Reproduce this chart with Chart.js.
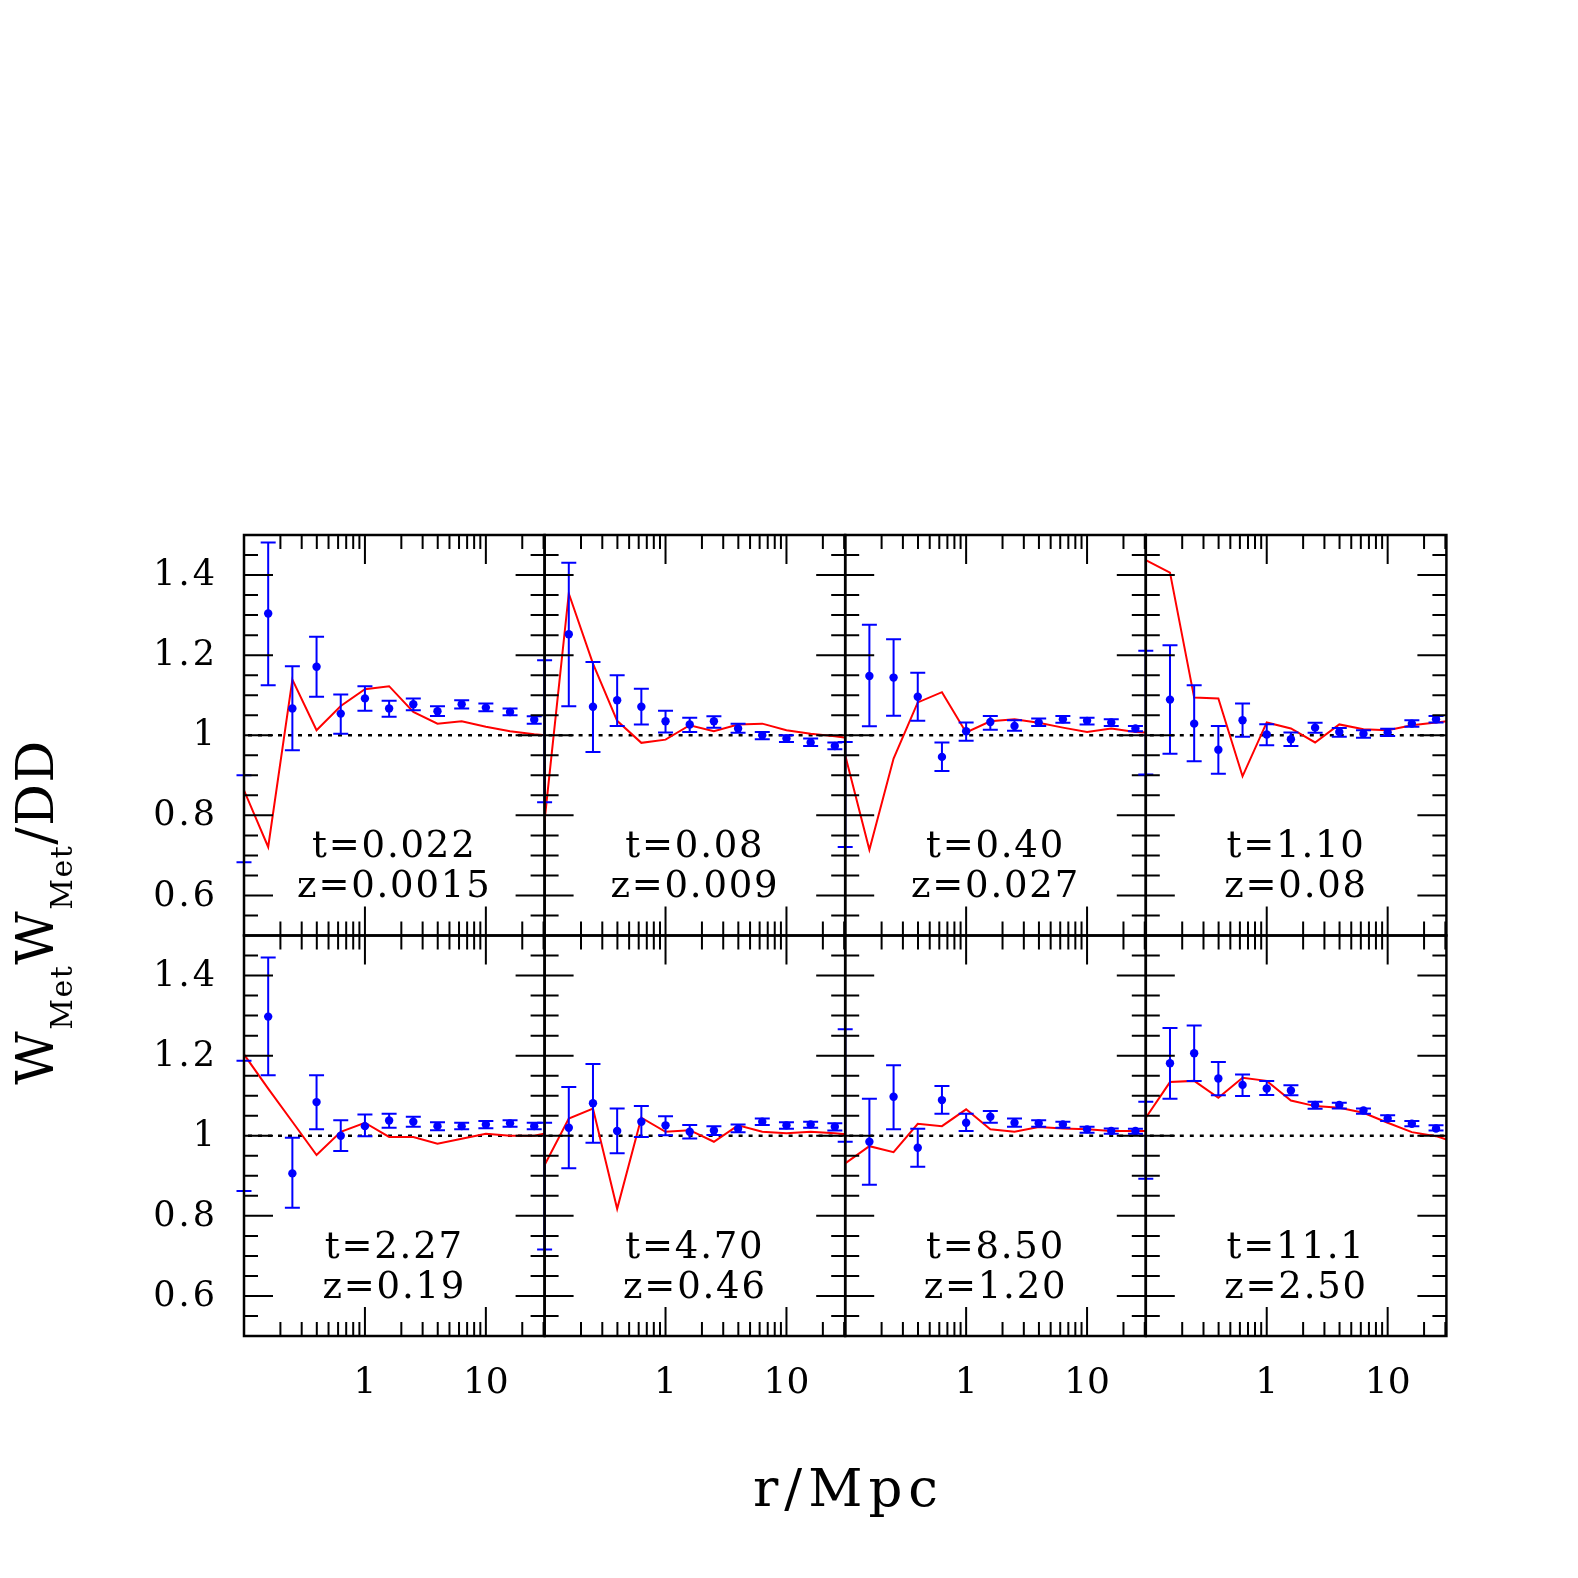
<!DOCTYPE html>
<html><head><meta charset="utf-8">
<script src="https://cdn.jsdelivr.net/npm/chart.js@4/dist/chart.umd.min.js"></script>
<style>
html,body{margin:0;padding:0;background:#fff;}
#wrap{position:relative;width:1578px;height:1578px;overflow:hidden;background:#fff;}
canvas{position:absolute;left:0;top:0;}
</style></head><body><div id="wrap"></div>
<script>
// ---------- data ----------
const R_OBS = [0.1, 0.1585, 0.2512, 0.3981, 0.631, 1.0, 1.585, 2.512, 3.981, 6.31, 10.0, 15.85, 25.12];
const R_MOD = [0.1, 0.1585, 0.2512, 0.3981, 0.631, 1.0, 1.585, 2.512, 3.981, 6.31, 10.0, 15.85, 25.12, 39.81];

const T_LABELS = ['t=0.022','t=0.08','t=0.40','t=1.10','t=2.27','t=4.70','t=8.50','t=11.1'];
const Z_LABELS = ['z=0.0015','z=0.009','z=0.027','z=0.08','z=0.19','z=0.46','z=1.20','z=2.50'];

const Y_MAJOR = [0.6, 0.8, 1, 1.2, 1.4];
const Y_TICK_LABELS = ['0.6', '0.8', '1', '1.2', '1.4'];
const Y_MINOR = [0.55, 0.65, 0.7, 0.75, 0.85, 0.9, 0.95, 1.05, 1.1, 1.15, 1.25, 1.3, 1.35, 1.45];
const X_MAJOR = [1, 10];
const X_TICK_LABELS = ['1', '10'];
const X_MINOR = [0.2, 0.3, 0.4, 0.5, 0.6, 0.7, 0.8, 0.9, 2, 3, 4, 5, 6, 7, 8, 9, 20, 30];

const P1_OBS = [0.79, 1.304, 1.067, 1.171, 1.054, 1.092, 1.067, 1.0775, 1.06, 1.0775, 1.069, 1.058, 1.039];
const P1_LO  = [0.683, 1.125, 0.9625, 1.096, 1.004, 1.061, 1.046, 1.0625, 1.048, 1.067, 1.06, 1.05, 1.029];
const P1_HI  = [0.9, 1.481, 1.1725, 1.246, 1.102, 1.1225, 1.086, 1.092, 1.0725, 1.0875, 1.079, 1.067, 1.0475];
const P1_MOD = [0.8625, 0.721, 1.139, 1.0125, 1.073, 1.115, 1.1225, 1.058, 1.029, 1.035, 1.021, 1.01, 1.0025, 0.997];

const P2_OBS = [1.01, 1.252, 1.071, 1.0875, 1.071, 1.035, 1.027, 1.035, 1.017, 1.0, 0.992, 0.982, 0.973];
const P2_LO  = [0.833, 1.0725, 0.958, 1.023, 1.027, 1.007, 1.008, 1.019, 1.006, 0.99, 0.983, 0.973, 0.965];
const P2_HI  = [1.1875, 1.431, 1.183, 1.15, 1.116, 1.061, 1.044, 1.0475, 1.029, 1.008, 1.0, 0.992, 0.982];
const P2_MOD = [0.7875, 1.354, 1.179, 1.036, 0.981, 0.989, 1.025, 1.01, 1.027, 1.029, 1.0125, 1.004, 0.9975, 0.989];

const P3_OBS = [0.852, 1.148, 1.144, 1.096, 0.946, 1.01, 1.033, 1.023, 1.032, 1.04, 1.036, 1.032, 1.017];
const P3_LO  = [0.721, 1.0225, 1.049, 1.036, 0.911, 0.986, 1.014, 1.011, 1.023, 1.031, 1.027, 1.023, 1.01];
const P3_HI  = [0.983, 1.276, 1.24, 1.156, 0.982, 1.032, 1.048, 1.0375, 1.042, 1.048, 1.044, 1.04, 1.023];
const P3_MOD = [0.95, 0.714, 0.942, 1.082, 1.1075, 1.007, 1.035, 1.04, 1.031, 1.019, 1.008, 1.017, 1.008, 1.006];

const P4_OBS = [1.056, 1.089, 1.029, 0.964, 1.0375, 1.002, 0.99, 1.019, 1.008, 1.004, 1.007, 1.029, 1.04];
const P4_LO  = [0.902, 0.954, 0.935, 0.904, 0.996, 0.975, 0.973, 1.006, 0.996, 0.994, 0.998, 1.021, 1.032];
const P4_HI  = [1.211, 1.225, 1.125, 1.023, 1.079, 1.0275, 1.007, 1.031, 1.018, 1.0125, 1.016, 1.0375, 1.048];
const P4_MOD = [1.4375, 1.406, 1.094, 1.092, 0.8975, 1.032, 1.017, 0.982, 1.027, 1.015, 1.0125, 1.025, 1.032, 1.039];

const P5_OBS = [1.02, 1.2975, 0.906, 1.084, 1.0, 1.024, 1.038, 1.035, 1.024, 1.024, 1.028, 1.031, 1.024];
const P5_LO  = [0.862, 1.151, 0.82, 1.016, 0.962, 0.999, 1.02, 1.0225, 1.014, 1.016, 1.019, 1.0225, 1.016];
const P5_HI  = [1.187, 1.445, 0.995, 1.151, 1.039, 1.053, 1.055, 1.0475, 1.034, 1.0325, 1.037, 1.039, 1.0325];
const P5_MOD = [1.203, 1.1175, 1.035, 0.952, 1.01, 1.0325, 0.997, 0.997, 0.98, 0.9925, 1.005, 1.0, 1.0, 1.012];

const P6_OBS = [0.874, 1.02, 1.081, 1.012, 1.035, 1.026, 1.01, 1.013, 1.0175, 1.035, 1.026, 1.028, 1.0225];
const P6_LO  = [0.716, 0.919, 0.9825, 0.956, 0.997, 1.001, 0.993, 1.002, 1.009, 1.027, 1.0175, 1.02, 1.013];
const P6_HI  = [1.0325, 1.122, 1.179, 1.068, 1.074, 1.049, 1.027, 1.024, 1.028, 1.043, 1.034, 1.035, 1.031];
const P6_MOD = [0.927, 1.043, 1.068, 0.8175, 1.045, 1.01, 1.014, 0.985, 1.026, 1.01, 1.006, 1.01, 1.006, 1.001];

const P7_OBS = [1.125, 0.985, 1.0975, 0.97, 1.089, 1.0325, 1.0475, 1.0325, 1.031, 1.028, 1.016, 1.012, 1.012];
const P7_LO  = [0.985, 0.8775, 1.016, 0.9225, 1.055, 1.012, 1.0325, 1.0225, 1.0225, 1.02, 1.0075, 1.005, 1.005];
const P7_HI  = [1.266, 1.0925, 1.176, 1.0175, 1.124, 1.055, 1.062, 1.043, 1.039, 1.035, 1.0225, 1.018, 1.0175];
const P7_MOD = [0.931, 0.974, 0.959, 1.03, 1.024, 1.066, 1.016, 1.01, 1.022, 1.018, 1.016, 1.012, 1.012, 1.012];

const P8_OBS = [0.989, 1.181, 1.206, 1.143, 1.127, 1.118, 1.113, 1.077, 1.077, 1.063, 1.043, 1.03, 1.018];
const P8_LO  = [0.8925, 1.0925, 1.137, 1.101, 1.099, 1.102, 1.101, 1.0675, 1.068, 1.055, 1.037, 1.024, 1.013];
const P8_HI  = [1.085, 1.269, 1.275, 1.184, 1.153, 1.137, 1.126, 1.085, 1.0825, 1.068, 1.051, 1.037, 1.026];
const P8_MOD = [1.045, 1.134, 1.137, 1.095, 1.145, 1.137, 1.088, 1.074, 1.07, 1.0575, 1.0325, 1.009, 0.999, 0.98];

const PANELS = [
  {obs: P1_OBS, lo: P1_LO, hi: P1_HI, mod: P1_MOD},
  {obs: P2_OBS, lo: P2_LO, hi: P2_HI, mod: P2_MOD},
  {obs: P3_OBS, lo: P3_LO, hi: P3_HI, mod: P3_MOD},
  {obs: P4_OBS, lo: P4_LO, hi: P4_HI, mod: P4_MOD},
  {obs: P5_OBS, lo: P5_LO, hi: P5_HI, mod: P5_MOD},
  {obs: P6_OBS, lo: P6_LO, hi: P6_HI, mod: P6_MOD},
  {obs: P7_OBS, lo: P7_LO, hi: P7_HI, mod: P7_MOD},
  {obs: P8_OBS, lo: P8_LO, hi: P8_HI, mod: P8_MOD}
];

// ---------- layout / style ----------
const PAGE = 1578;
const GEO = {left: 244, top: 535, w: 300.6, h: 400.5};
const FONT = '"DejaVu Serif", "Liberation Serif", serif';
const BLUE = '#0000ff', RED = '#ff0000';

const panelPlugin = {
  id: 'panel',
  beforeDatasetsDraw(chart) {
    const {ctx, chartArea: a, scales: {y}} = chart;
    ctx.save();
    ctx.beginPath(); ctx.rect(a.left, a.top, a.right - a.left, a.bottom - a.top); ctx.clip();
    ctx.strokeStyle = '#000'; ctx.lineWidth = 2.4; ctx.setLineDash([4, 6]);
    const y1 = y.getPixelForValue(1);
    ctx.beginPath(); ctx.moveTo(a.left + 4, y1); ctx.lineTo(a.right, y1); ctx.stroke();
    ctx.restore();
  },
  afterDatasetsDraw(chart, args, opts) {
    const {ctx, chartArea: a, scales: {x, y}} = chart;
    const p = PANELS[opts.index];
    ctx.save();
    // error bars
    ctx.strokeStyle = BLUE; ctx.lineWidth = 2;
    R_OBS.forEach((r, k) => {
      const px = x.getPixelForValue(r);
      const yl = y.getPixelForValue(p.lo[k]), yh = y.getPixelForValue(p.hi[k]);
      ctx.beginPath();
      ctx.moveTo(px, yl); ctx.lineTo(px, yh);
      ctx.moveTo(px - 7.5, yl); ctx.lineTo(px + 7.5, yl);
      ctx.moveTo(px - 7.5, yh); ctx.lineTo(px + 7.5, yh);
      ctx.stroke();
    });
    // frame
    ctx.strokeStyle = '#000'; ctx.lineWidth = 2.5;
    ctx.strokeRect(a.left, a.top, a.right - a.left, a.bottom - a.top);
    // ticks
    ctx.lineWidth = 2;
    ctx.beginPath();
    const yt = (v, len) => {
      const py = y.getPixelForValue(v);
      ctx.moveTo(a.left, py); ctx.lineTo(a.left + len, py);
      ctx.moveTo(a.right, py); ctx.lineTo(a.right - len, py);
    };
    Y_MAJOR.forEach(v => yt(v, 29));
    Y_MINOR.forEach(v => yt(v, 14));
    const xt = (v, len) => {
      const px = x.getPixelForValue(v);
      ctx.moveTo(px, a.top); ctx.lineTo(px, a.top + len);
      ctx.moveTo(px, a.bottom); ctx.lineTo(px, a.bottom - len);
    };
    X_MAJOR.forEach(v => xt(v, 29));
    X_MINOR.forEach(v => xt(v, 14));
    ctx.stroke();
    // tick labels
    ctx.fillStyle = '#000';
    if (opts.col === 0) {
      ctx.font = '35px ' + FONT;
      ctx.letterSpacing = '3px';
      ctx.textAlign = 'right'; ctx.textBaseline = 'middle';
      Y_MAJOR.forEach((v, i) => ctx.fillText(Y_TICK_LABELS[i], a.left - 26, y.getPixelForValue(v) + 1));
    }
    if (opts.row === 1) {
      ctx.font = '36px ' + FONT;
      ctx.letterSpacing = '0px';
      ctx.textAlign = 'center'; ctx.textBaseline = 'alphabetic';
      X_MAJOR.forEach((v, i) => ctx.fillText(X_TICK_LABELS[i], x.getPixelForValue(v), a.bottom + 57));
    }
    // panel labels
    ctx.font = '37px ' + FONT;
    ctx.letterSpacing = '1.8px';
    ctx.textAlign = 'center'; ctx.textBaseline = 'alphabetic';
    const cx = (a.left + a.right) / 2;
    ctx.fillText(T_LABELS[opts.index], cx, y.getPixelForValue(0.696));
    ctx.fillText(Z_LABELS[opts.index], cx, y.getPixelForValue(0.596));
    ctx.letterSpacing = '0px';
    // axis titles (once)
    if (opts.index === 0) {
      ctx.save();
      ctx.translate(53, 912);
      ctx.rotate(-Math.PI / 2);
      ctx.textAlign = 'left';
      ctx.letterSpacing = '1.5px';
      const parts = [['W', 52, 0], ['Met', 30, 19], ['W', 52, 0], ['Met', 30, 19], ['/DD', 52, 0]];
      let total = 0;
      parts.forEach(q => { ctx.font = q[1] + 'px ' + FONT; total += ctx.measureText(q[0]).width; });
      let cur = -total / 2;
      parts.forEach(q => { ctx.font = q[1] + 'px ' + FONT; ctx.fillText(q[0], cur, q[2]); cur += ctx.measureText(q[0]).width; });
      ctx.restore();
      ctx.font = '53px ' + FONT;
      ctx.letterSpacing = '6px';
      ctx.textAlign = 'center';
      ctx.fillText('r/Mpc', 848.5, 1506);
    }
    ctx.restore();
  }
};

const wrap = document.getElementById('wrap');
PANELS.forEach((p, i) => {
  const col = i % 4, row = Math.floor(i / 4);
  const L = GEO.left + col * GEO.w, T = GEO.top + row * GEO.h;
  const cv = document.createElement('canvas');
  cv.width = PAGE; cv.height = PAGE;
  cv.style.width = PAGE + 'px'; cv.style.height = PAGE + 'px';
  wrap.appendChild(cv);
  new Chart(cv, {
    type: 'line',
    data: {
      datasets: [
        {type: 'line', data: R_MOD.map((r, k) => ({x: r, y: p.mod[k]})), borderColor: RED, borderWidth: 2,
         pointRadius: 0, tension: 0, fill: false, order: 2},
        {type: 'scatter', data: R_OBS.map((r, k) => ({x: r, y: p.obs[k]})), backgroundColor: BLUE, borderWidth: 0,
         pointRadius: c => (R_OBS[c.dataIndex] <= 0.1 ? 0 : 4.2), clip: false, order: 1}
      ]
    },
    options: {
      responsive: false, animation: false, devicePixelRatio: 1, events: [],
      layout: {padding: {left: L, top: T, right: PAGE - L - GEO.w, bottom: PAGE - T - GEO.h}},
      scales: {
        x: {type: 'logarithmic', min: 0.1, max: 30.6, display: false},
        y: {type: 'linear', min: 0.5, max: 1.5, display: false}
      },
      plugins: {legend: {display: false}, tooltip: {enabled: false}, title: {display: false},
                panel: {index: i, col: col, row: row}}
    },
    plugins: [panelPlugin]
  });
});
</script>
</body></html>
